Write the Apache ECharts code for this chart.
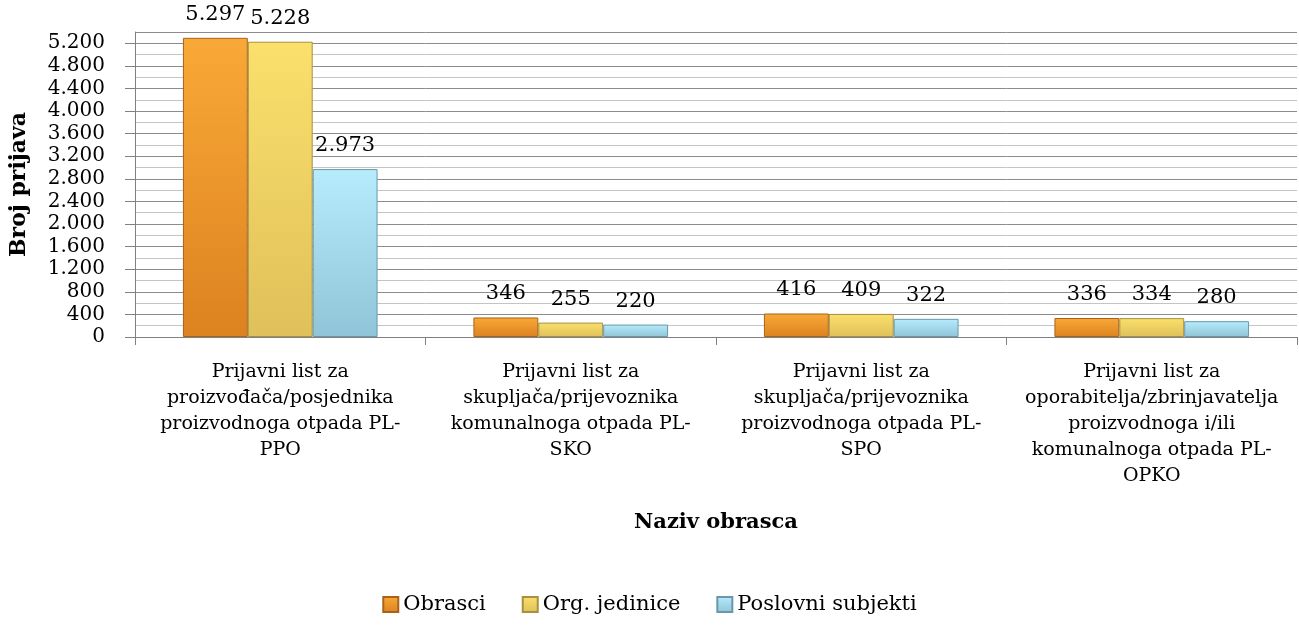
<!DOCTYPE html>
<html>
<head>
<meta charset="utf-8">
<title>Prijave po obrascu</title>
<script src="https://cdn.jsdelivr.net/npm/echarts@6/dist/echarts.min.js"></script>
<style>
  html, body { margin: 0; padding: 0; background: #fff; }
  #main { width: 1299px; height: 633px; }
</style>
</head>
<body>
<div id="main"></div>
<script>
// podaci
var kategorije = [
    'Prijavni list za\nproizvođača/posjednika\nproizvodnoga otpada PL-\nPPO',
    'Prijavni list za\nskupljača/prijevoznika\nkomunalnoga otpada PL-\nSKO',
    'Prijavni list za\nskupljača/prijevoznika\nproizvodnoga otpada PL-\nSPO',
    'Prijavni list za\noporabitelja/zbrinjavatelja\nproizvodnoga i/ili\nkomunalnoga otpada PL-\nOPKO'
];
var nazivi = ['Obrasci', 'Org. jedinice', 'Poslovni subjekti'];
var obrasci = [5297, 346, 416, 336];
var orgJedinice = [5228, 255, 409, 334];
var poslovniSubjekti = [2973, 220, 322, 280];

var FONT = 'DejaVu Serif';

// broj s tockom kao separatorom tisucica
function fmt(v) {
    return String(v).replace(/\B(?=(\d{3})+(?!\d))/g, '.');
}

// okomiti gradijent (svjetlije gore, tamnije dolje)
function grad(top, bottom) {
    return new echarts.graphic.LinearGradient(0, 0, 0, 1, [
        { offset: 0, color: top },
        { offset: 1, color: bottom }
    ]);
}

var boje = [
    { c: grad('#f9a937', '#dc8220'), b: '#a8631a' },
    { c: grad('#fbe06c', '#dfc05a'), b: '#a99040' },
    { c: grad('#b6ecfc', '#90c4d8'), b: '#6a98aa' }
];
var podaci = [obrasci, orgJedinice, poslovniSubjekti];

var series = [];
for (var i = 0; i < nazivi.length; i++) {
    series.push({
        name: nazivi[i],
        type: 'bar',
        data: podaci[i],
        barGap: '0%',
        barCategoryGap: '33%',
        itemStyle: {
            color: boje[i].c,
            borderColor: boje[i].b,
            borderWidth: 1
        },
        label: {
            show: true,
            position: 'top',
            distance: 13,
            fontFamily: FONT,
            fontSize: 21,
            color: '#000',
            formatter: function (p) { return fmt(p.value); }
        }
    });
}

var chart = echarts.init(document.getElementById('main'));
var option = {
    animation: false,
    textStyle: { fontFamily: FONT },
    legend: {
        bottom: 13,
        left: 'center',
        itemWidth: 15,
        itemHeight: 15,
        itemGap: 36,
        icon: 'rect',
        textStyle: { fontFamily: FONT, fontSize: 21, color: '#000' },
        data: nazivi
    },
    grid: {
        left: 133,
        right: 2,
        top: 32,
        height: 305,
        containLabel: false
    },
    xAxis: {
        type: 'category',
        data: kategorije,
        name: 'Naziv obrasca',
        nameLocation: 'middle',
        nameGap: 175,
        nameTextStyle: { fontFamily: FONT, fontSize: 21, fontWeight: 'bold', color: '#000' },
        axisLine: { lineStyle: { color: '#808080', width: 1 } },
        axisTick: { show: true, length: 8, lineStyle: { color: '#808080' } },
        axisLabel: {
            interval: 0,
            margin: 22,
            fontFamily: FONT,
            fontSize: 19,
            lineHeight: 26,
            color: '#000'
        },
        splitLine: { show: false }
    },
    yAxis: {
        type: 'value',
        min: 0,
        max: 5400,
        interval: 400,
        name: 'Broj prijava',
        nameLocation: 'middle',
        nameGap: 105,
        nameRotate: 90,
        nameTextStyle: { fontFamily: FONT, fontSize: 22, fontWeight: 'bold', color: '#000' },
        axisLine: { show: true, lineStyle: { color: '#808080' } },
        axisTick: { show: true, length: 10, inside: false, lineStyle: { color: '#808080' } },
        axisLabel: {
            showMaxLabel: false,
            margin: 30,
            fontFamily: FONT,
            fontSize: 20,
            color: '#000',
            formatter: function (v) { return fmt(v); }
        },
        splitLine: { show: true, lineStyle: { color: '#8c8c8c', width: 1 } },
        minorTick: { show: false, splitNumber: 2 },
        minorSplitLine: { show: true, lineStyle: { color: '#c4c4c4', width: 1 } }
    },
    series: series
};
chart.setOption(option);
</script>
</body>
</html>
